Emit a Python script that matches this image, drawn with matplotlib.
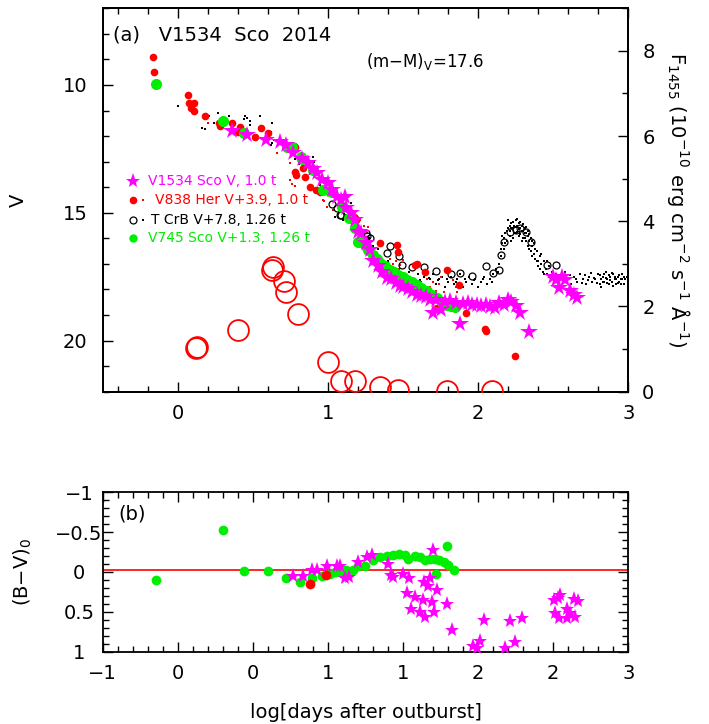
import numpy as np
import matplotlib
matplotlib.use("Agg")
import matplotlib.pyplot as plt
from matplotlib.ticker import MultipleLocator, FixedLocator

# ---- data: x = log(days after outburst) ----

# V1534 Sco V (magenta stars), top panel
v1534_x = [0.36, 0.46, 0.59, 0.68, 0.72, 0.77, 0.83, 0.87, 0.90, 0.93, 0.96, 1.00, 1.03, 1.06,
           1.09, 1.11, 1.12, 1.15, 1.18, 1.20, 1.22, 1.25, 1.28, 1.30, 1.33, 1.36, 1.39, 1.42,
           1.45, 1.48, 1.50, 1.53, 1.56, 1.59, 1.62, 1.65, 1.68, 1.70, 1.72, 1.75, 1.78, 1.81,
           1.85, 1.88, 1.90, 1.93, 1.96, 1.99, 2.02, 2.05, 2.08, 2.11, 2.14, 2.17, 2.20, 2.22,
           2.25, 2.28, 2.34, 2.50, 2.52, 2.54, 2.56, 2.58, 2.61, 2.64, 2.66]
v1534_v = [11.80, 11.95, 12.15, 12.25, 12.35, 12.68, 12.88, 13.05, 13.30, 13.45, 13.72, 13.84, 14.10, 14.40,
           14.50, 14.40, 14.82, 15.00, 15.30, 15.74, 15.80, 16.20, 16.45, 16.90, 17.10, 17.30, 17.55, 17.60,
           17.76, 17.85, 17.90, 18.00, 18.10, 18.20, 18.25, 18.30, 18.40, 18.93, 18.41, 18.80, 18.50, 18.47,
           18.55, 19.35, 18.56, 18.55, 18.60, 18.60, 18.65, 18.60, 18.70, 18.73, 18.54, 18.60, 18.41, 18.50,
           18.64, 18.93, 19.67, 17.50, 17.63, 17.95, 17.50, 17.63, 18.08, 18.21, 18.34]

# V838 Her V+3.9 (red filled, large)
v838_x = [-0.165, -0.158, 0.065, 0.076, 0.109, 0.091, 0.107, 0.18, 0.273, 0.28, 0.362, 0.398, 0.413,
          0.513, 0.553, 0.602, 0.773, 0.78, 0.78, 0.79, 0.836, 0.847, 0.88, 0.92, 0.947, 1.17, 1.18,
          1.187, 1.347, 1.458, 1.469, 1.58, 1.591, 1.647, 1.724, 1.79, 1.87, 1.92, 2.047, 2.05, 2.247]
v838_v = [8.89, 9.50, 10.40, 10.69, 10.69, 10.91, 11.00, 11.21, 11.47, 11.60, 11.50, 11.83, 11.65,
          12.02, 11.69, 11.89, 12.39, 12.41, 13.39, 13.52, 13.26, 13.59, 14.00, 14.10, 14.20, 15.15, 15.21,
          15.28, 16.19, 16.28, 16.52, 17.04, 17.00, 17.30, 18.73, 17.24, 17.82, 18.93, 19.55, 19.62, 20.60]

# V838 Her small dots
v838s_x = [0.202, 0.658, 0.747, 0.747, 0.758, 0.78, 0.969, 0.975, 0.991, 1.036, 1.158, 1.164, 1.213,
           1.21, 1.24, 1.26, 1.269, 1.41, 1.43, 1.45, 1.47, 1.48, 1.50, 1.66, 1.68, 1.70, 1.72, 1.74,
           1.75, 1.77, 1.83, 1.85, 1.86, 1.88]
v838s_v = [11.47, 12.67, 13.06, 13.72, 13.87, 13.95, 14.50, 14.55, 14.76, 14.89, 15.30, 15.44, 15.67,
           15.30, 15.50, 15.80, 15.54, 16.80, 17.00, 16.90, 17.20, 17.05, 16.85, 17.60, 17.90, 17.70, 18.05,
           17.80, 17.50, 18.10, 17.65, 17.90, 18.10, 17.75]

# T CrB V+7.8 (open circles)
tcrb_x = [1.03, 1.06, 1.08, 1.09, 1.25, 1.26, 1.28, 1.39, 1.41, 1.47, 1.49, 1.56, 1.64, 1.72, 1.82,
          1.88, 1.96, 2.05, 2.10, 2.14, 2.15, 2.17, 2.21, 2.25, 2.28, 2.32, 2.35, 2.46, 2.52]
tcrb_v = [14.66, 14.80, 15.08, 15.08, 15.80, 15.90, 16.00, 16.58, 16.32, 16.71, 17.04, 17.13, 17.13,
          17.26, 17.39, 17.34, 17.47, 17.07, 17.37, 17.24, 16.65, 16.13, 15.75, 15.67, 15.60, 15.74,
          16.13, 17.04, 17.04]

# T CrB small dots
tcrb_dots = [
    (0.00, 10.81), (0.16, 11.67), (0.18, 11.72), (0.21, 11.21), (0.24, 11.50), (0.27, 11.08),
    (0.34, 11.21), (0.44, 11.32), (0.45, 11.21), (0.46, 11.30), (0.48, 11.43), (0.48, 11.56),
    (0.55, 11.21), (0.61, 11.79), (0.62, 11.86), (0.63, 11.50), (0.64, 12.15), (0.63, 12.28),
    (0.62, 12.35), (0.70, 12.50), (0.74, 12.60), (0.78, 12.90), (0.81, 13.10), (0.85, 13.30),
    (0.88, 13.50), (0.90, 12.80), (0.91, 13.00), (0.95, 13.90), (0.97, 14.50), (1.00, 14.30),
    (1.04, 14.90), (1.05, 15.18), (1.10, 15.28), (1.12, 15.08), (1.15, 14.60), (1.16, 15.54),
    (1.20, 15.70), (1.24, 15.80), (1.27, 16.00), (1.30, 16.30), (1.33, 16.40), (1.36, 17.00),
    (1.38, 17.30), (1.40, 16.90), (1.42, 17.50), (1.44, 17.20), (1.46, 17.60), (1.48, 17.40),
    (1.50, 17.70), (1.52, 17.50), (1.54, 17.30), (1.56, 17.80), (1.58, 17.60), (1.60, 17.40),
    (1.62, 17.70), (1.64, 17.50), (1.66, 17.90), (1.68, 17.60), (1.70, 17.40), (1.72, 17.80),
    (1.74, 17.60), (1.76, 17.50), (1.78, 17.90), (1.80, 17.70), (1.82, 17.50), (1.84, 17.80),
    (1.86, 17.60), (1.88, 17.40), (1.90, 17.90), (1.92, 17.70), (1.94, 17.50), (1.96, 17.80),
    (1.98, 17.60), (2.00, 17.90), (2.02, 17.70), (2.04, 17.50), (2.06, 17.80), (2.08, 17.60),
    (2.10, 17.40), (2.12, 17.20), (1.55, 17.55), (1.61, 17.62), (1.67, 17.55), (1.73, 17.65),
    (1.79, 17.60), (1.85, 17.70), (1.91, 17.60), (1.97, 17.65), (2.03, 17.60), (2.09, 17.70),
    (2.13, 17.30), (2.14, 17.00), (2.15, 16.70), (2.15, 16.40), (2.16, 16.20), (2.17, 16.00),
    (2.17, 16.40), (2.18, 15.80), (2.19, 15.70), (2.19, 16.10), (2.20, 15.60), (2.21, 15.50),
    (2.21, 15.90), (2.22, 15.40), (2.23, 15.60), (2.23, 16.00), (2.24, 15.50), (2.25, 15.30),
    (2.25, 15.80), (2.26, 15.50), (2.27, 15.40), (2.27, 15.90), (2.28, 15.60), (2.29, 15.50),
    (2.29, 16.10), (2.30, 15.70), (2.31, 15.60), (2.31, 16.00), (2.32, 15.80), (2.33, 15.90),
    (2.33, 16.30), (2.34, 16.10), (2.35, 16.00), (2.35, 16.50), (2.36, 16.30), (2.37, 16.60),
    (2.37, 16.20), (2.38, 16.80), (2.39, 16.50), (2.40, 16.90), (2.40, 17.10), (2.41, 16.70),
    (2.42, 17.00), (2.43, 17.30), (2.44, 16.90), (2.45, 17.20), (2.46, 17.40), (2.47, 17.10),
    (2.48, 17.50), (2.49, 17.30), (2.50, 17.60), (2.52, 17.40), (2.54, 17.70), (2.56, 17.50),
    (2.58, 17.30), (2.60, 17.60), (2.62, 17.80), (2.64, 17.50), (2.66, 17.70), (2.68, 17.40),
    (2.70, 17.60), (2.72, 17.80), (2.74, 17.50), (2.76, 17.70), (2.78, 17.60), (2.80, 17.40),
    (2.81, 17.80), (2.82, 17.60), (2.83, 17.50), (2.84, 17.70), (2.85, 17.30), (2.86, 17.60),
    (2.87, 17.80), (2.88, 17.50), (2.89, 17.70), (2.90, 17.40), (2.91, 17.60), (2.92, 17.80),
    (2.93, 17.50), (2.94, 17.70), (2.95, 17.60), (2.96, 17.40), (2.97, 17.80), (2.98, 17.60),
    (2.99, 17.50),
    # denser secondary maximum and tail
    (2.16, 15.90), (2.18, 16.20), (2.20, 15.30), (2.21, 15.70), (2.22, 15.60), (2.22, 16.10),
    (2.23, 15.35), (2.24, 15.80), (2.25, 15.55), (2.26, 15.75), (2.26, 15.25), (2.27, 15.65),
    (2.28, 15.35), (2.28, 15.85), (2.29, 15.70), (2.30, 15.45), (2.30, 16.00), (2.31, 15.80),
    (2.32, 15.55), (2.32, 16.10), (2.33, 15.70), (2.34, 15.85), (2.34, 16.40), (2.36, 16.10),
    (2.36, 16.70), (2.38, 16.40), (2.39, 16.90), (2.41, 17.20), (2.42, 16.60), (2.44, 17.40),
    (2.46, 16.90), (2.47, 17.50), (2.51, 17.70), (2.53, 17.50), (2.57, 17.70), (2.61, 17.45),
    (2.65, 17.60), (2.69, 17.75), (2.71, 17.45), (2.73, 17.65), (2.75, 17.35), (2.77, 17.55),
    (2.79, 17.75), (2.81, 17.45), (2.82, 17.90), (2.83, 17.70), (2.84, 17.40), (2.85, 17.55),
    (2.86, 17.75), (2.87, 17.45), (2.88, 17.65), (2.89, 17.35), (2.90, 17.85), (2.91, 17.50),
    (2.92, 17.60), (2.93, 17.75), (2.94, 17.45), (2.95, 17.80), (2.96, 17.60), (2.97, 17.50),
]

# V745 Sco V+1.3 (green)
v745_x = [-0.142, 0.298, 0.44, 0.724, 0.758, 0.818, 0.824, 0.90, 0.964, 1.013, 1.024, 1.091, 1.142,
          1.18, 1.202, 1.224, 1.25, 1.269, 1.302, 1.325, 1.347, 1.38, 1.413, 1.44, 1.469, 1.50, 1.524,
          1.56, 1.591, 1.62, 1.658, 1.69, 1.724, 1.76, 1.791, 1.82, 1.847]
v745_v = [9.96, 11.41, 11.87, 12.42, 12.41, 12.80, 12.90, 13.32, 14.10, 14.13, 14.20, 14.76, 15.21,
          15.60, 16.13, 16.13, 16.30, 16.45, 16.65, 16.80, 16.98, 17.10, 17.24, 17.33, 17.43, 17.53, 17.63,
          17.72, 17.82, 17.95, 18.08, 18.20, 18.34, 18.48, 18.60, 18.64, 18.67]

# UV 1455 flux (red open circles), right axis
uv_x = [0.124, 0.13, 0.402, 0.631, 0.624, 0.709, 0.72, 0.802, 1.002, 1.084, 1.18, 1.347, 1.469, 1.795, 2.09]
uv_f = [1.02, 1.05, 1.45, 2.93, 2.85, 2.60, 2.35, 1.82, 0.69, 0.26, 0.26, 0.11, 0.05, 0.01, 0.01]

# (B-V)0 panel
bv_green_x = [-0.142, 0.298, 0.44, 0.602, 0.72, 0.813, 0.891, 0.958, 1.013, 1.05, 1.08, 1.091, 1.12,
              1.169, 1.202, 1.247, 1.302, 1.347, 1.391, 1.436, 1.476, 1.513, 1.536, 1.58, 1.613, 1.647,
              1.68, 1.713, 1.72, 1.742, 1.773, 1.791, 1.802, 1.836]
bv_green = [0.10, -0.53, -0.01, -0.01, 0.07, 0.13, 0.07, 0.05, 0.025, 0.0, 0.0, -0.025, -0.02,
            -0.025, -0.07, -0.075, -0.15, -0.19, -0.20, -0.21, -0.225, -0.21, -0.16, -0.20, -0.19, -0.15,
            -0.16, -0.16, 0.02, -0.15, -0.13, -0.32, -0.09, -0.02]
bv_red_x = [0.88, 0.987]
bv_red = [0.15, 0.04]
bv_star_x = [0.764, 0.831, 0.891, 0.93, 0.991, 1.058, 1.08, 1.113, 1.142, 1.202, 1.258, 1.291, 1.402,
             1.42, 1.436, 1.502, 1.542, 1.524, 1.58, 1.551, 1.613, 1.631, 1.647, 1.64, 1.669, 1.68,
             1.691, 1.702, 1.709, 1.724, 1.791, 1.824, 1.969, 1.99, 2.013, 2.04, 2.176, 2.213, 2.247,
             2.291, 2.502, 2.547, 2.53, 2.636, 2.662, 2.513, 2.536, 2.591, 2.613, 2.591, 2.647]
bv_star = [0.05, 0.05, -0.02, -0.02, -0.07, -0.075, -0.07, 0.07, 0.06, -0.13, -0.19, -0.21, -0.10,
           0.04, 0.06, 0.02, 0.07, 0.26, 0.32, 0.47, 0.50, 0.35, 0.56, 0.12, 0.18, 0.08,
           0.38, -0.28, 0.50, 0.23, 0.40, 0.73, 0.93, 0.95, 0.87, 0.60, 0.95, 0.61, 0.88,
           0.58, 0.35, 0.29, 0.33, 0.34, 0.36, 0.52, 0.58, 0.47, 0.52, 0.58, 0.56]
bv_ref = -0.025

bottom_xticks = [-0.5, 0, 0.5, 1, 1.5, 2, 2.5, 3]
bottom_xlabels = ["\u22121", "0", "0", "1", "1", "2", "2", "3"]

MAG = "#ff00ff"
RED = "#ff0000"
GRN = "#00ee00"

plt.rcParams['font.family'] = ['DejaVu Sans']

fig = plt.figure(figsize=(7.09, 7.24), dpi=100)
ax = fig.add_axes([0.1449, 0.459, 0.7413, 0.5296])
ax2 = ax.twinx()
axb = fig.add_axes([0.1449, 0.0999, 0.7413, 0.2202])

# ---- top panel ----
tx = [p[0] for p in tcrb_dots]
tv = [p[1] for p in tcrb_dots]
ax.plot(tx, tv, 's', color='black', ms=2.0, mew=0, zorder=2)
ax.plot(v838s_x, v838s_v, 's', color=RED, ms=2.0, mew=0, zorder=2)
ax.plot(tcrb_x, tcrb_v, 'o', mfc='none', mec='black', ms=5, mew=0.9, zorder=3)
ax.plot(v838_x, v838_v, 'o', color=RED, ms=5.5, mew=0, zorder=4)
ax.plot(v745_x, v745_v, 'o', color=GRN, ms=8, mew=0, zorder=5)
ax.plot(v1534_x, v1534_v, '*', color=MAG, ms=13, mew=0, zorder=6)
ax2.plot(uv_x, uv_f, 'o', mfc='none', mec=RED, ms=15, mew=1.3, zorder=3)

ax.set_xlim(-0.5, 3)
ax.set_ylim(22, 7)
ax2.set_ylim(0, 9)
ax.xaxis.set_major_locator(MultipleLocator(1))
ax.xaxis.set_minor_locator(MultipleLocator(0.2))
ax.yaxis.set_major_locator(MultipleLocator(5))
ax.yaxis.set_minor_locator(MultipleLocator(1))
ax2.yaxis.set_major_locator(MultipleLocator(2))
ax2.yaxis.set_minor_locator(MultipleLocator(1))

ax.tick_params(which='both', direction='in', top=True, right=False, labelsize=14, width=1)
ax.tick_params(which='major', length=7)
ax.tick_params(which='minor', length=4)
ax.tick_params(axis='x', pad=9)
ax.tick_params(axis='y', pad=11)
ax2.tick_params(which='both', direction='in', labelsize=14, width=1, pad=10)
ax2.tick_params(which='major', length=7)
ax2.tick_params(which='minor', length=4)
for a in (ax, ax2, axb):
    for s in a.spines.values():
        s.set_linewidth(1.3)

ax.set_ylabel("V", fontsize=14)
ax.yaxis.set_label_coords(-0.142, 0.5)
ax2.set_ylabel(r"F$_{1455}$ (10$^{-10}$ erg cm$^{-2}$ s$^{-1}$ $\mathrm{\AA}^{-1}$)",
               fontsize=14, rotation=270, va='bottom')
ax2.yaxis.set_label_coords(1.07, 0.5)

ax.text(0.02, 0.917, "(a)   V1534  Sco  2014", transform=ax.transAxes, fontsize=14, va='baseline')
ax.text(0.50, 0.847, r"(m$-$M)$_\mathrm{V}$=17.6", transform=ax.transAxes, fontsize=12, va='baseline')

# hand-made legend
leg_y = [0.5495, 0.500, 0.449, 0.3996]
ax.plot([0.0576], [leg_y[0]], '*', color=MAG, ms=11, mew=0, transform=ax.transAxes)
ax.plot([0.0576], [leg_y[1]], 'o', color=RED, ms=5.5, mew=0, transform=ax.transAxes)
ax.plot([0.0767], [leg_y[1]], 's', color=RED, ms=2.0, mew=0, transform=ax.transAxes)
ax.plot([0.0576], [leg_y[2]], 'o', mfc='none', mec='black', ms=5, mew=0.9, transform=ax.transAxes)
ax.plot([0.0767], [leg_y[2]], 's', color='black', ms=2.0, mew=0, transform=ax.transAxes)
ax.plot([0.0576], [leg_y[3]], 'o', color=GRN, ms=6, mew=0, transform=ax.transAxes)
ax.text(0.086, leg_y[0], "V1534 Sco V, 1.0 t", color=MAG, fontsize=10, va='center', transform=ax.transAxes)
ax.text(0.099, leg_y[1], "V838 Her V+3.9, 1.0 t", color=RED, fontsize=10, va='center', transform=ax.transAxes)
ax.text(0.092, leg_y[2], "T CrB V+7.8, 1.26 t", color='black', fontsize=10, va='center', transform=ax.transAxes)
ax.text(0.086, leg_y[3], "V745 Sco V+1.3, 1.26 t", color=GRN, fontsize=10, va='center', transform=ax.transAxes)

# ---- bottom panel ----
axb.axhline(bv_ref, color=RED, lw=1.2, zorder=1)
axb.plot(bv_green_x, bv_green, 'o', color=GRN, ms=7, mew=0, zorder=3)
axb.plot(bv_red_x, bv_red, 'o', color=RED, ms=7, mew=0, zorder=4)
axb.plot(bv_star_x, bv_star, '*', color=MAG, ms=11, mew=0, zorder=5)

axb.set_xlim(-0.5, 3)
axb.set_ylim(1, -1)
axb.xaxis.set_major_locator(FixedLocator(bottom_xticks))
axb.set_xticklabels(bottom_xlabels)
axb.xaxis.set_minor_locator(MultipleLocator(0.1))
axb.yaxis.set_major_locator(MultipleLocator(0.5))
axb.yaxis.set_minor_locator(MultipleLocator(0.1))
axb.yaxis.set_major_formatter(matplotlib.ticker.FuncFormatter(
    lambda v, p: ("%g" % v).replace("-", "\u2212")))
axb.tick_params(which='both', direction='in', top=True, right=True, labelsize=14, width=1)
axb.tick_params(which='major', length=7)
axb.tick_params(which='minor', length=4)
axb.tick_params(axis='x', pad=9)
axb.tick_params(axis='y', pad=17)
for lab in axb.get_yticklabels():
    lab.set_horizontalalignment('center')

axb.text(0.029, 0.826, "(b)", transform=axb.transAxes, fontsize=14, va='baseline')
axb.set_ylabel(r"(B$-$V)$_0$", fontsize=14)
axb.yaxis.set_label_coords(-0.13, 0.5)
axb.set_xlabel("log[days after outburst]", fontsize=14)
axb.xaxis.set_label_coords(0.5, -0.32)

fig.savefig("out.png", dpi=100)
